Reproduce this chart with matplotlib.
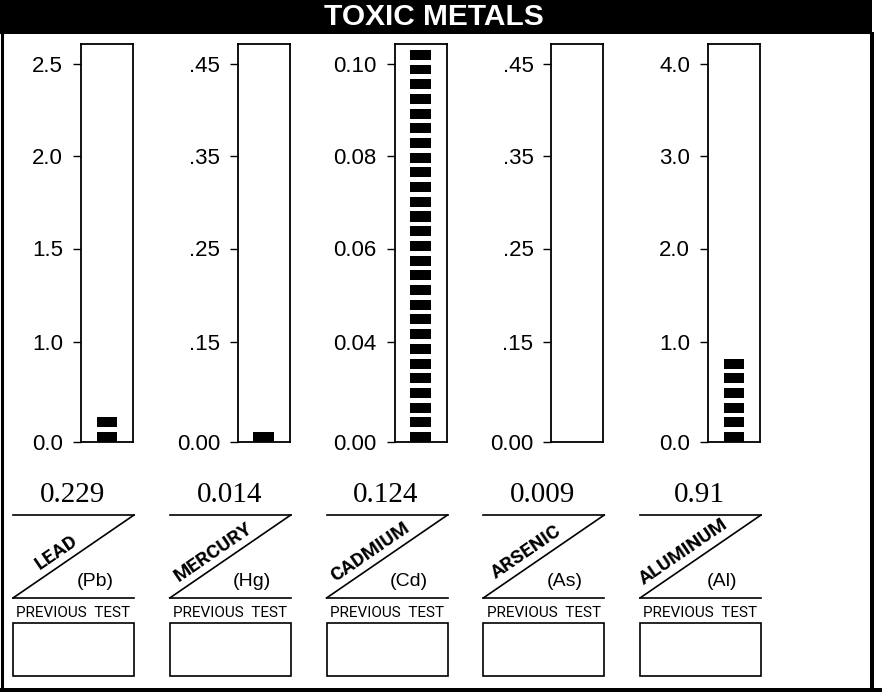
import numpy as np
import matplotlib
matplotlib.use("Agg")
import matplotlib.pyplot as plt
from matplotlib.patches import Rectangle
from matplotlib.lines import Line2D

# --- data ---------------------------------------------------------------
metals = ["LEAD", "MERCURY", "CADMIUM", "ARSENIC", "ALUMINUM"]
symbols = ["(Pb)", "(Hg)", "(Cd)", "(As)", "(Al)"]
results = [0.229, 0.014, 0.124, 0.009, 0.91]

tick_values = [
    [0.0, 1.0, 1.5, 2.0, 2.5],
    [0.0, 0.15, 0.25, 0.35, 0.45],
    [0.0, 0.04, 0.06, 0.08, 0.10],
    [0.0, 0.15, 0.25, 0.35, 0.45],
    [0.0, 1.0, 2.0, 3.0, 4.0],
]
tick_labels = [
    ["0.0", "1.0", "1.5", "2.0", "2.5"],
    ["0.00", ".15", ".25", ".35", ".45"],
    ["0.00", "0.04", "0.06", "0.08", "0.10"],
    ["0.00", ".15", ".25", ".35", ".45"],
    ["0.0", "1.0", "2.0", "3.0", "4.0"],
]

# --- layout (pixels, y measured from the top) ----------------------------
W, H = 882, 692
TICK_POS = np.array([0, 100, 193.5, 286, 378])  # px above the baseline
BOX_H = 398
BASE_Y = 442
BOX_W = 52
FIRST_RIGHT = 133
PITCH = 156.75
LABEL_W = 121
PERIOD = 14.7   # block pitch, px
BLOCK_H = 10


def fx(x):
    return x / W


def fy(y):
    return 1 - y / H


def make_scale(vals):
    vals = np.asarray(vals, float)
    s_lo = (TICK_POS[1] - TICK_POS[0]) / (vals[1] - vals[0])
    s_hi = (TICK_POS[-1] - TICK_POS[-2]) / (vals[-1] - vals[-2])

    def fwd(v):
        v = np.asarray(v, float)
        out = np.interp(v, vals, TICK_POS)
        out = np.where(v > vals[-1], TICK_POS[-1] + (v - vals[-1]) * s_hi, out)
        out = np.where(v < vals[0], TICK_POS[0] + (v - vals[0]) * s_lo, out)
        return out

    def inv(p):
        p = np.asarray(p, float)
        out = np.interp(p, TICK_POS, vals)
        out = np.where(p > TICK_POS[-1], vals[-1] + (p - TICK_POS[-1]) / s_hi, out)
        out = np.where(p < TICK_POS[0], vals[0] + (p - TICK_POS[0]) / s_lo, out)
        return out

    return fwd, inv


fig = plt.figure(figsize=(W / 100, H / 100), dpi=100)

# title bar
fig.add_artist(Rectangle((0, fy(34)), fx(872), 34 / H, transform=fig.transFigure,
                         facecolor="black", edgecolor="none"))
fig.text(fx(434), fy(25), "TOXIC METALS", color="white", fontsize=21.5,
         fontweight="bold", family="Liberation Sans", ha="center", va="baseline")

# outer frame
fig.add_artist(Line2D([fx(1.5), fx(1.5)], [fy(34), fy(690)], transform=fig.transFigure,
                      color="black", lw=2.2))
fig.add_artist(Line2D([fx(872), fx(872)], [fy(34), fy(690)], transform=fig.transFigure,
                      color="black", lw=2.9))
fig.add_artist(Rectangle((0, 0), 1, 4 / H, transform=fig.transFigure,
                         facecolor="black", edgecolor="none"))

ang = np.degrees(np.arctan2(598 - 515, LABEL_W))
u = np.array([np.cos(np.radians(ang)), -np.sin(np.radians(ang))])   # along diagonal (y down)
nrm = np.array([-np.sin(np.radians(ang)), -np.cos(np.radians(ang))])  # up-left

for i in range(len(metals)):
    right = FIRST_RIGHT + i * PITCH
    left = right - BOX_W
    fwd, inv = make_scale(tick_values[i])

    ax = fig.add_axes([fx(left), fy(BASE_Y), BOX_W / W, BOX_H / H])
    ax.set_yscale("function", functions=(fwd, inv))
    ax.set_ylim(0, float(inv(BOX_H)))
    ax.set_xlim(-0.5, 0.5)
    ax.set_xticks([])
    ax.set_yticks(tick_values[i])
    ax.set_yticklabels(tick_labels[i], family="Liberation Sans")
    ax.tick_params(axis="y", length=5.8, width=1.0, pad=7, labelsize=16)
    for sp in ax.spines.values():
        sp.set_linewidth(1.3)

    # segmented bar
    n = int(min(round(float(fwd(results[i])) / PERIOD), BOX_H // PERIOD))
    if n > 0:
        bottoms = np.arange(n) * PERIOD
        tops = bottoms + BLOCK_H
        vb, vt = inv(bottoms), inv(tops)
        ax.bar(np.zeros(n), vt - vb, bottom=vb, width=0.4, color="black")

    # label block
    lr = right + 1
    ll = lr - LABEL_W
    cx = (ll + lr) / 2
    fig.text(fx(cx - 1), fy(502), str(results[i]), family="Liberation Serif",
             fontsize=21, ha="center", va="baseline")
    for xs, ys in [([ll, lr], [515, 515]), ([ll, lr], [598, 515]), ([ll, lr], [598, 598])]:
        fig.add_artist(Line2D([fx(x) for x in xs], [fy(y) for y in ys],
                              transform=fig.transFigure, color="black", lw=1.2))
    p = np.array([ll, 598]) + u * (LABEL_W / np.cos(np.radians(ang))) * 0.42 + nrm * 13.5
    fig.text(fx(p[0]), fy(p[1]), metals[i], rotation=ang, rotation_mode="anchor",
             ha="center", va="center", fontsize=14, fontweight="bold",
             family=["Roboto", "DejaVu Sans"])
    fig.text(fx(ll + 82), fy(581), symbols[i], family="Liberation Sans",
             fontsize=14, ha="center", va="center")
    fig.text(fx(cx), fy(617), "PREVIOUS  TEST", family=["Roboto", "DejaVu Sans"],
             fontsize=11, ha="center", va="baseline")
    fig.add_artist(Rectangle((fx(ll), fy(676)), LABEL_W / W, 53 / H, transform=fig.transFigure,
                             facecolor="none", edgecolor="black", lw=1.2))

fig.savefig("out.png", dpi=100)
